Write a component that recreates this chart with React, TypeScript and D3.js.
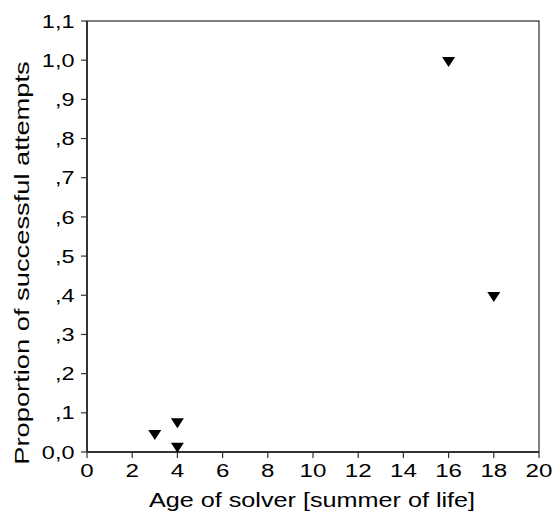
import React from "react";
import * as d3 from "d3";

const ages = [3, 4, 4, 16, 18];
const proportions = [0.048, 0.078, 0.015, 1.0, 0.4];
const xTicks = [0, 2, 4, 6, 8, 10, 12, 14, 16, 18, 20];
const yTicks = [0, 0.1, 0.2, 0.3, 0.4, 0.5, 0.6, 0.7, 0.8, 0.9, 1.0, 1.1];
const yTickLabels = ["0,0", ",1", ",2", ",3", ",4", ",5", ",6", ",7", ",8", ",9", "1,0", "1,1"];
const xTitle = "Age of solver [summer of life]";
const yTitle = "Proportion of successful attempts";

const W = 552;
const H = 513;
const m = { left: 87, top: 21, right: 13, bottom: 61 };

export default function App() {
  const x = d3.scaleLinear().domain([0, 20]).range([m.left, W - m.right]);
  const y = d3.scaleLinear().domain([0, 1.1]).range([H - m.bottom, m.top]);
  const font = "'Liberation Sans', Arial, Helvetica, sans-serif";
  const tri = "M-6.5,-3.3L6.5,-3.3L0,6.7Z";
  const x0 = x(0), x1 = x(20), y0 = y(0), y1 = y(1.1);
  return (
    <svg width={W} height={H} style={{ position: "absolute", left: 0, top: 0 }}>
      <rect x={0} y={0} width={W} height={H} fill="#fff" />
      <rect x={x0} y={y1} width={x1 - x0} height={y0 - y1} fill="none" stroke="#000" strokeWidth={1} />
      <line x1={x0} x2={x0} y1={y1} y2={y0} stroke="#333" strokeWidth={2} />
      <line x1={x0} x2={x1} y1={y0} y2={y0} stroke="#333" strokeWidth={2} />
      {yTicks.map((t, i) => (
        <g key={"y" + i}>
          <line x1={x0 - 6} x2={x0} y1={y(t)} y2={y(t)} stroke="#333" strokeWidth={1.2} />
          <text
            transform={`translate(74.5,${y(t)}) scale(1.27,1)`}
            dy="0.36em"
            textAnchor="end"
            fontFamily={font}
            fontSize={18.5}
            fill="#000"
          >
            {yTickLabels[i]}
          </text>
        </g>
      ))}
      {xTicks.map((t) => (
        <g key={"x" + t}>
          <line x1={x(t)} x2={x(t)} y1={y0} y2={y0 + 6} stroke="#333" strokeWidth={1.2} />
          <text
            transform={`translate(${x(t)},477) scale(1.27,1)`}
            textAnchor="middle"
            fontFamily={font}
            fontSize={19}
            fill="#000"
          >
            {t}
          </text>
        </g>
      ))}
      {ages.map((a, i) => (
        <path key={"p" + i} d={tri} transform={`translate(${x(a)},${y(proportions[i])})`} fill="#000" />
      ))}
      <text
        transform={`translate(${(x0 + x1) / 2 - 1},507) scale(1.2,1)`}
        textAnchor="middle"
        fontFamily={font}
        fontSize={21}
        fill="#000"
      >
        {xTitle}
      </text>
      <text
        transform={`translate(28.5,263) rotate(-90) scale(1.3,1)`}
        textAnchor="middle"
        fontFamily={font}
        fontSize={21}
        fill="#000"
      >
        {yTitle}
      </text>
    </svg>
  );
}
